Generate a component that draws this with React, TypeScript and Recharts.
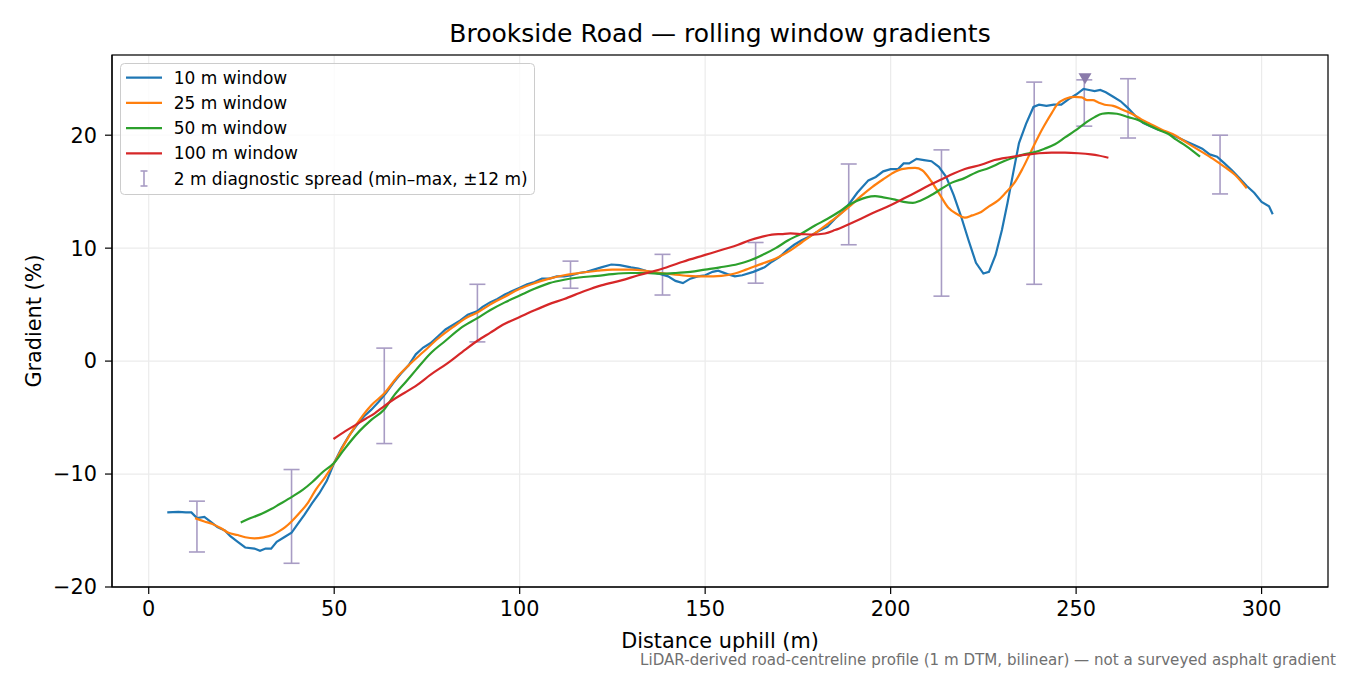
import { ComposedChart, Line, Scatter, ErrorBar, XAxis, YAxis, CartesianGrid } from 'recharts'

const FONT = "'DejaVu Sans', sans-serif"

// [distance uphill (m), gradient (%)]
const WINDOW_10: [number, number][] = [
  [5, -13.4], [8, -13.35], [10, -13.4], [11.5, -13.4], [13, -13.9], [15, -13.8], [17, -14.3],
  [18.5, -14.7], [20.5, -15.0], [22, -15.5], [24, -16.0], [26, -16.5], [28.5, -16.6], [30, -16.8],
  [31.5, -16.6], [33, -16.6], [34.5, -16.0], [36.5, -15.6], [38.5, -15.2], [40, -14.5], [42, -13.6],
  [44, -12.6], [46, -11.7], [48, -10.6], [50, -9.0], [52, -7.7], [54, -6.6], [56, -5.7], [58, -4.9],
  [60, -4.3], [62, -3.6], [64, -2.8], [66, -1.9], [68, -1.1], [70, -0.4], [72, 0.6], [74, 1.2],
  [76, 1.6], [78, 2.2], [80, 2.8], [82, 3.2], [84, 3.6], [86, 4.1], [88.5, 4.4], [90, 4.8],
  [92, 5.2], [94, 5.5], [96, 5.9], [98, 6.2], [100, 6.5], [102, 6.8], [104, 7.0], [106, 7.3],
  [108, 7.3], [110, 7.5], [112, 7.5], [114, 7.6], [116, 7.8], [118, 7.9], [120, 8.1], [122, 8.3],
  [124.7, 8.55], [127, 8.5], [130, 8.3], [132, 8.2], [134, 8.0], [136, 7.85], [138, 7.7], [140, 7.5],
  [142, 7.1], [144, 6.9], [146, 7.3], [148, 7.5], [150, 7.6], [152, 7.9], [153.5, 8.0], [156, 7.7],
  [158, 7.5], [160, 7.6], [163, 7.9], [166, 8.3], [168, 8.8], [170, 9.2], [172, 9.8], [174, 10.3],
  [176, 10.7], [178, 11.0], [180, 11.4], [183, 11.9], [185, 12.6], [187, 13.2], [189, 14.0],
  [191, 14.9], [194, 16.0], [196, 16.3], [198, 16.8], [200, 17.0], [202, 17.0], [203.5, 17.5],
  [205, 17.5], [207, 17.9], [209, 17.8], [211, 17.7], [213, 17.2], [215, 16.3], [217, 14.7],
  [219, 12.8], [221, 10.7], [223, 8.7], [225, 7.75], [226.5, 7.9], [228.3, 9.4], [230, 11.6],
  [231.5, 14.0], [233, 16.6], [234.6, 19.3], [236.5, 21.0], [238.5, 22.5], [240, 22.7], [242, 22.6],
  [244, 22.7], [246, 22.7], [248, 23.2], [250, 23.6], [252, 24.1], [253.5, 24.0], [255, 23.9],
  [256.5, 24.0], [258, 23.8], [260, 23.4], [262, 23.0], [264, 22.4], [266, 21.7], [268, 21.1],
  [270, 20.8], [272, 20.5], [274, 20.3], [276, 20.0], [278, 19.7], [280, 19.4], [282, 19.1],
  [284, 18.8], [286, 18.3], [288, 18.1], [290, 17.5], [292, 16.9], [294, 16.2], [296, 15.5],
  [298, 14.9], [300, 14.1], [302, 13.7], [303, 13.0],
]

const WINDOW_25: [number, number][] = [
  [12.5, -13.9], [15, -14.2], [17, -14.4], [19.5, -14.8], [21.5, -15.2], [24, -15.4], [26, -15.6],
  [28.5, -15.7], [31, -15.6], [33.3, -15.4], [35, -15.1], [36.8, -14.7], [38.5, -14.2], [40.5, -13.5],
  [43, -12.5], [45, -11.4], [47.5, -10.3], [50, -9.0], [53, -7.2], [56, -5.6], [60, -3.9],
  [63.4, -2.9], [67, -1.4], [70, -0.4], [74, 0.8], [78, 2.0], [82, 3.0], [86, 3.9], [88.6, 4.3],
  [92, 5.0], [96, 5.7], [100, 6.4], [104, 6.9], [108, 7.3], [112, 7.6], [116, 7.8], [121, 8.0],
  [125, 8.1], [130, 8.1], [134, 8.0], [138, 7.8], [142, 7.65], [145.4, 7.55], [150, 7.5],
  [154.4, 7.55], [158, 7.75], [161, 8.1], [163.4, 8.4], [166, 8.7], [169.7, 9.2], [173, 9.8],
  [176, 10.5], [179.5, 11.3], [183.2, 12.2], [186, 12.9], [188.6, 13.6], [192, 14.6], [195, 15.4],
  [198, 16.1], [200.3, 16.6], [203, 17.0], [206.6, 17.1], [208.5, 16.9], [211, 15.9], [213.5, 14.6],
  [215.5, 13.6], [218, 13.0], [220, 12.7], [222, 12.9], [224.4, 13.2], [226.5, 13.7], [228.9, 14.2],
  [231, 14.9], [233.4, 15.8], [235.5, 17.0], [237.9, 18.6], [240, 20.0], [241.5, 20.9], [243.5, 22.0],
  [245.1, 22.8], [247, 23.2], [249.6, 23.4], [251.5, 23.35], [253, 23.1], [254.5, 23.1], [256, 22.9],
  [257.7, 22.7], [260, 22.6], [262.2, 22.3], [265, 21.9], [267.6, 21.4], [270, 21.0], [273, 20.5],
  [276, 20.1], [280, 19.3], [284, 18.5], [287.4, 17.8], [290, 17.2], [292.8, 16.5], [296, 15.3],
]

const WINDOW_50: [number, number][] = [
  [24.8, -14.3], [27.5, -13.9], [30.6, -13.5], [33, -13.1], [35.1, -12.7], [38.7, -12.0],
  [41.5, -11.4], [44.1, -10.7], [47, -9.8], [50, -9.0], [52.5, -7.9], [56.8, -6.2], [60, -5.2],
  [63.4, -4.3], [66, -3.1], [69.4, -1.8], [72, -0.8], [76, 0.7], [80, 1.8], [84, 2.9], [88.6, 3.8],
  [92, 4.5], [96, 5.2], [100, 5.8], [104, 6.4], [108, 6.9], [112, 7.2], [116, 7.4], [121, 7.55],
  [125, 7.7], [130, 7.8], [134, 7.8], [138.2, 7.75], [142, 7.8], [146, 7.9], [150, 8.1], [154, 8.3],
  [158.9, 8.6], [162, 8.9], [166.1, 9.5], [169, 10.0], [172.4, 10.7], [176, 11.3], [179.6, 12.0],
  [183, 12.6], [186, 13.2], [188.6, 13.8], [191, 14.2], [193.5, 14.5], [195.8, 14.6], [198, 14.5],
  [201.2, 14.3], [203.5, 14.1], [206, 14.0], [208, 14.2], [211, 14.7], [213.9, 15.3], [216.5, 15.8],
  [219.9, 16.2], [223, 16.7], [226.5, 17.1], [229.9, 17.6], [233, 18.0], [236, 18.3], [238.9, 18.5],
  [241.5, 18.8], [244.3, 19.2], [247, 19.8], [250.6, 20.6], [253, 21.2], [255, 21.6], [257, 21.9],
  [258.7, 21.95], [261, 21.9], [264.1, 21.6], [267, 21.3], [269.5, 20.9], [272, 20.5], [274.9, 20.1],
  [277, 19.6], [279.4, 19.1], [281.5, 18.6], [283.4, 18.1],
]

const WINDOW_100: [number, number][] = [
  [49.8, -6.9], [53, -6.2], [56, -5.6], [58.5, -5.1], [61, -4.6], [63.4, -4.0], [66, -3.4],
  [69, -2.8], [72.4, -2.1], [76, -1.2], [80.5, -0.2], [84.5, 0.8], [88.6, 1.8], [92, 2.5],
  [96, 3.3], [100, 3.9], [104, 4.5], [107.6, 5.0], [112, 5.5], [117.5, 6.2], [122, 6.7],
  [127.4, 7.15], [132, 7.6], [138.2, 8.15], [144, 8.8], [150, 9.4], [155, 9.9], [158.9, 10.3],
  [162, 10.7], [165.2, 11.0], [168, 11.2], [170.6, 11.25], [173, 11.3], [176, 11.25], [179, 11.2],
  [182.3, 11.3], [185, 11.6], [188.6, 12.1], [192, 12.6], [195.8, 13.2], [198, 13.5], [201.2, 14.0],
  [203, 14.3], [206.6, 14.9], [210, 15.5], [213.8, 16.1], [217, 16.6], [220, 17.0], [224.6, 17.4],
  [228, 17.8], [232, 18.05], [237.2, 18.3], [240, 18.4], [243.4, 18.45], [247, 18.45], [250.6, 18.4],
  [254, 18.3], [256, 18.2], [258.7, 18.0],
]

// 2 m diagnostic spread: min and max over ±12 m
const SPREAD_X = [13, 38.5, 63.5, 88.6, 113.7, 138.5, 163.6, 188.7, 213.7, 238.7, 252.2, 264, 288.8]
const SPREAD_MIN = [-16.9, -17.9, -7.3, 1.7, 6.45, 5.85, 6.9, 10.3, 5.75, 6.8, 20.8, 19.75, 14.8]
const SPREAD_MAX = [-12.4, -9.6, 1.15, 6.8, 8.85, 9.45, 10.5, 17.45, 18.7, 24.7, 24.9, 25.0, 20.0]

const PEAK_X = 252.4
const PEAK_Y = 25.0

const X_TICKS = [0, 50, 100, 150, 200, 250, 300]
const Y_TICKS = [-20, -10, 0, 10, 20]

const SERIES = [
  { name: '10 m window', color: '#1f77b4', points: WINDOW_10, curve: 'linear' },
  { name: '25 m window', color: '#ff7f0e', points: WINDOW_25, curve: 'monotone' },
  { name: '50 m window', color: '#2ca02c', points: WINDOW_50, curve: 'monotone' },
  { name: '100 m window', color: '#d62728', points: WINDOW_100, curve: 'monotone' },
]
const SPREAD_LABEL = '2 m diagnostic spread (min–max, ±12 m)'

const SPREAD_COLOR = '#a89cc4'
const PEAK_COLOR = '#8a7aaa'

const toXY = (pts: [number, number][]) => pts.map(([x, y]) => ({ x, y }))

const spreadData = SPREAD_X.map((x, i) => {
  const mid = (SPREAD_MIN[i] + SPREAD_MAX[i]) / 2
  return { x, y: mid, err: [mid - SPREAD_MIN[i], SPREAD_MAX[i] - mid] }
})

const minus = (v: number) => String(v).replace('-', '\u2212')

const tickStyle = { fontSize: 20.8, fill: '#000', fontFamily: FONT }

function TriangleDown(props: any) {
  const { cx, cy } = props
  if (cx == null || cy == null) return <g />
  return (
    <polygon
      points={`${cx - 6.5},${cy - 5.5} ${cx + 6.5},${cy - 5.5} ${cx},${cy + 5.5}`}
      fill={PEAK_COLOR}
    />
  )
}

export default function App() {
  return (
    <div style={{ position: 'absolute', left: 0, top: 0, width: 1350, height: 675, background: '#fff' }}>
      <ComposedChart width={1350} height={675} margin={{ top: 55, right: 22, bottom: 0, left: 0 }}>
        <CartesianGrid stroke="#ebebeb" strokeWidth={1.2} />
        <XAxis
          type="number"
          dataKey="x"
          domain={[-9.9, 317.9]}
          ticks={X_TICKS}
          allowDataOverflow
          height={88}
          tick={tickStyle}
          tickSize={7}
          tickMargin={7}
          tickLine={{ stroke: '#000', strokeWidth: 1.2 }}
          axisLine={{ stroke: '#000', strokeWidth: 1.2 }}
        />
        <YAxis
          type="number"
          dataKey="y"
          domain={[-20, 27.1]}
          ticks={Y_TICKS}
          allowDataOverflow
          width={112}
          tick={tickStyle}
          tickFormatter={minus}
          tickSize={7}
          tickMargin={8}
          tickLine={{ stroke: '#000', strokeWidth: 1.2 }}
          axisLine={{ stroke: '#000', strokeWidth: 1.2 }}
        />
        <Scatter data={spreadData} dataKey="y" shape={() => <g />} isAnimationActive={false}>
          <ErrorBar
            dataKey="err"
            direction="y"
            width={8}
            stroke={SPREAD_COLOR}
            strokeWidth={1.6}
            isAnimationActive={false}
          />
        </Scatter>
        {SERIES.map(s => (
          <Line
            key={s.name}
            data={toXY(s.points)}
            dataKey="y"
            type={s.curve as any}
            stroke={s.color}
            strokeWidth={2.2}
            dot={false}
            activeDot={false}
            isAnimationActive={false}
          />
        ))}
        <Scatter data={[{ x: PEAK_X, y: PEAK_Y }]} dataKey="y" shape={TriangleDown} isAnimationActive={false} />
      </ComposedChart>

      {/* frame, titles and legend */}
      <svg
        width={1350}
        height={675}
        style={{ position: 'absolute', left: 0, top: 0, pointerEvents: 'none', fontFamily: FONT }}
      >
        <rect x={112} y={55} width={1216} height={532} fill="none" stroke="#000" strokeWidth={1.2} />
        <text x={720} y={42} textAnchor="middle" fontSize={25}>
          Brookside Road — rolling window gradients
        </text>
        <text x={720} y={647.5} textAnchor="middle" fontSize={20.8}>
          Distance uphill (m)
        </text>
        <text x={40.5} y={321} textAnchor="middle" fontSize={20.8} transform="rotate(-90 40.5 321)">
          Gradient (%)
        </text>
        <text x={1336} y={665} textAnchor="end" fontSize={15.1} fill="#707070">
          LiDAR-derived road-centreline profile (1 m DTM, bilinear) — not a surveyed asphalt gradient
        </text>

        <rect x={120.5} y={63.5} width={414} height={131} rx={4} fill="#fff" fillOpacity={0.8} stroke="#cccccc" />
        {SERIES.map((s, i) => {
          const cy = 77.7 + 25.2 * i
          return (
            <g key={s.name}>
              <line x1={126} x2={162} y1={cy} y2={cy} stroke={s.color} strokeWidth={2.2} />
              <text x={173.7} y={cy + 6} fontSize={17}>
                {s.name}
              </text>
            </g>
          )
        })}
        <g>
          <line x1={144} x2={144} y1={171} y2={186} stroke={SPREAD_COLOR} strokeWidth={1.6} />
          <line x1={140.5} x2={147.5} y1={171} y2={171} stroke={SPREAD_COLOR} strokeWidth={1.6} />
          <line x1={140.5} x2={147.5} y1={186} y2={186} stroke={SPREAD_COLOR} strokeWidth={1.6} />
          <text x={173.7} y={178.5 + 6} fontSize={17}>
            {SPREAD_LABEL}
          </text>
        </g>
      </svg>
    </div>
  )
}
